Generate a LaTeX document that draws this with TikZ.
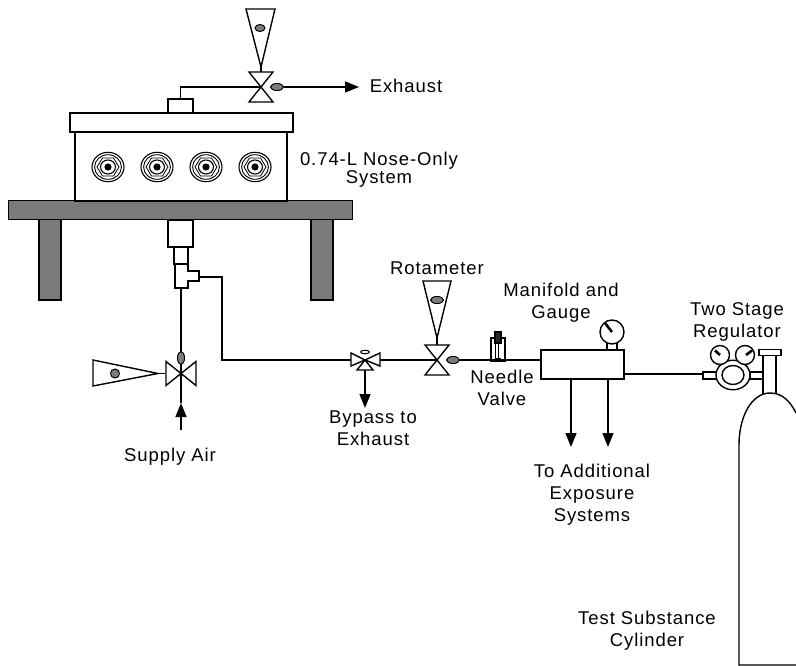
\documentclass[tikz,border=0pt]{standalone}
\usepackage{fontspec}
\setmainfont[LetterSpace=5]{Liberation Sans}
\usepackage{tikz}
\usetikzlibrary{positioning,shapes.geometric,arrows.meta,calc}
\definecolor{tableGray}{RGB}{122,122,122}
\definecolor{ballGray}{RGB}{125,125,125}

\begin{document}
\begin{tikzpicture}[
    x=1pt, y=-1pt,
    line width=1.4pt,
    part/.style={draw, rectangle, inner sep=0pt, outer sep=0pt, fill=white},
    solid part/.style={part, fill=tableGray},
    ball/.style={draw, ellipse, inner sep=0pt, outer sep=0pt, fill=ballGray, line width=1pt},
    dial/.style={draw, circle, inner sep=0pt, outer sep=0pt, fill=white},
    flow/.style={-{Stealth[inset=0pt,length=14pt,width=11pt]}},
    needle/.style={line width=2.6pt},
    label/.style={align=center, inner sep=0pt, font=\fontsize{18.5}{22}\selectfont},
    bowtie/.pic={
        \draw[fill=white] (-12,-15) -- (12,-15) -- (-12,15) -- (12,15) -- cycle;
    },
    port/.pic={
        \draw[line width=1.1pt] (0,0) ellipse [x radius=16, y radius=14.7];
        \draw[line width=0.9pt] (0,0) ellipse [x radius=13.4, y radius=12.3];
        \draw[line width=0.8pt] (-11,0) -- (-5.5,-9) -- (5.5,-9) -- (11,0) -- (5.5,9) -- (-5.5,9) -- cycle;
        \draw[line width=1.1pt] (0,0) ellipse [x radius=7.5, y radius=7];
        \fill (0,0) circle (3.6);
    }
]
\useasboundingbox (0,0) rectangle (796,666);

% Exposure system on its table
\node[solid part, minimum width=22, minimum height=81] (legL) at (50,259.5) {};
\node[solid part, minimum width=22, minimum height=81] (legR) at (322,259.5) {};
\node[solid part, minimum width=344, minimum height=18.5] (table) at (180.5,210) {};
\node[part, minimum width=212, minimum height=69] (chamber) at (181,166.5) {};
\node[part, minimum width=223, minimum height=19] (lid) at (181.5,122.5) {};
\node[part, minimum width=25, minimum height=14] (outlet) at (180.5,106) {};
\foreach \x in {108,157,206,255} {
    \pic at (\x,167) {port};
}

% Top rotameter and exhaust
\draw[fill=white] (246,9) -- (275,9) -- (261,67) -- cycle;
\coordinate (tipTop) at (261,67);
\coordinate (valveTop) at (261,87);
\coordinate (exhaustTip) at (359,87);
\draw (outlet.north) |- (valveTop);
\draw (tipTop) -- (valveTop);
\pic at (valveTop) {bowtie};
\node[ball, minimum width=13, minimum height=7] (ballTop) at (277,87) {};
\draw[flow] (ballTop) -- (exhaustTip);
\node[ball, minimum width=10, minimum height=7] (floatTop) at (260,28) {};

% Fittings below the table
\node[part, minimum width=25, minimum height=27] (inlet) at (180.5,233.5) {};
\node[part, minimum width=14, minimum height=17] (coupling) at (181,255.5) {};
\draw[fill=white] (175,264) -- (188,264) -- (188,271) -- (199,271) -- (199,281) -- (188,281) -- (188,288) -- (175,288) -- cycle;
\coordinate (teeOut) at (199,277);
\coordinate (teeDown) at (181,288);
\coordinate (valveAir) at (181,373.5);
\coordinate (airTip) at (181,403);
\coordinate (airEnd) at (181,430);
\coordinate (bend) at (222,360);

% Supply air
\draw (teeDown) -- (valveAir);
\draw (airTip) -- (valveAir);
\draw[flow] (airEnd) -- (airTip);
\pic[rotate=90] at (valveAir) {bowtie};
\node[ball, minimum width=7, minimum height=13] (ballAir) at (181,358) {};
\draw[fill=white] (93,360) -- (93,386) -- (158,373.5) -- cycle;
\coordinate (tipAir) at (158,373.5);
\draw (tipAir) -- (165,373.5);
\node[ball, minimum width=9, minimum height=9] (floatAir) at (115,373.5) {};

% Line to the manifold
\coordinate (bypass) at (365,360);
\coordinate (bypassL) at (351,360);
\coordinate (bypassR) at (380,360);
\coordinate (bypassTip) at (365,408);
\coordinate (valveLine) at (437,360);
\draw (teeOut) -| (bend) -- (bypassL);
\draw[fill=white] (bypass) -- (351,353) -- (351,366) -- cycle;
\draw[fill=white] (bypass) -- (380,353) -- (380,366) -- cycle;
\draw[fill=white] (bypass) -- (357,370) -- (373,370) -- cycle;
\node[draw, ellipse, inner sep=0pt, minimum width=9, minimum height=3.5, line width=1pt] (bypassKnob) at (365,352) {};
\draw[flow] (365,370) -- (bypassTip);
\draw (bypassR) -- (valveLine);

\draw[fill=white] (423,281) -- (451,281) -- (437,338) -- cycle;
\coordinate (tipLine) at (437,338);
\draw (tipLine) -- (valveLine);
\pic at (valveLine) {bowtie};
\node[ball, minimum width=13, minimum height=7] (floatLine) at (437,300) {};
\node[ball, minimum width=13, minimum height=7] (ballLine) at (453,360) {};

% Needle valve
\node[part, fill=none, minimum width=14, minimum height=23] (needleValve) at (498,349.5) {};
\node[part, fill=black!85, minimum width=6, minimum height=11] (needleKnob) at (498,337.5) {};
\draw[line width=0.7pt] (needleKnob.south) -- (498,358);
\draw[line width=0.7pt] (495.5,343) -- (495.5,358) -- (501,358);

% Manifold and gauge
\node[part, minimum width=83, minimum height=29] (manifold) at (582.5,364.5) {};
\node[part, minimum width=10, minimum height=7] (gaugeNeck) at (612,346.5) {};
\node[dial, minimum size=24] (gauge) at (612,332) {};
\draw[needle] (605,323) -- (612,332);
\draw (ballLine) -- (manifold.west |- ballLine);
\coordinate (outA) at (571,447);
\coordinate (outB) at (608,447);
\draw[flow] (manifold.south -| outA) -- (outA);
\draw[flow] (manifold.south -| outB) -- (outB);

% Regulator and cylinder
\coordinate (regIn) at (703,374);
\node[part, minimum width=14, minimum height=7] (stubL) at (710,375.5) {};
\node[part, minimum width=14, minimum height=7] (stubR) at (757,375.5) {};
\node[draw, ellipse, inner sep=0pt, outer sep=0pt, fill=white, minimum width=34, minimum height=29.5] (regBody) at (733,375) {};
\node[draw, ellipse, inner sep=0pt, outer sep=0pt, minimum width=22, minimum height=19] (regInner) at (733,375) {};
\node[dial, minimum size=19] (dialL) at (720,355) {};
\node[dial, minimum size=19] (dialR) at (745,355) {};
\draw[needle] (715,350.5) -- (720,355);
\draw[needle] (752,350.5) -- (746,355);
\draw (manifold.east |- regIn) -- (stubL.west |- regIn);

\node[part, minimum width=13, minimum height=38] (neck) at (769.5,374.5) {};
\node[part, minimum width=22, minimum height=5.5] (valveCap) at (770,352.5) {};
\draw (796,665) -- (739,665) -- (739,445) .. controls (739,416) and (752,393) .. (770,393) .. controls (782,393) and (790,401) .. (796,413);

% Labels
\node[label] (lblExhaust) at (406,85.5) {Exhaust};
\node[label, font=\fontsize{18.5}{18}\selectfont] (lblSystem) at (379,170) {0.74-L Nose-Only\\System};
\node[label] (lblAir) at (170,457) {Supply Air};
\node[label] (lblRotameter) at (437,268.5) {Rotameter};
\node[label] (lblManifold) at (561,302.5) {Manifold and\\Gauge};
\node[label] (lblNeedle) at (502,388) {Needle\\Valve};
\node[label] (lblRegulator) at (737,321.5) {Two Stage\\Regulator};
\node[label] (lblBypass) at (373,428) {Bypass to\\Exhaust};
\node[label] (lblExtra) at (592,494.5) {To Additional\\Exposure\\Systems};
\node[label] (lblCylinder) at (647,630.5) {Test Substance\\Cylinder};
\end{tikzpicture}
\end{document}
